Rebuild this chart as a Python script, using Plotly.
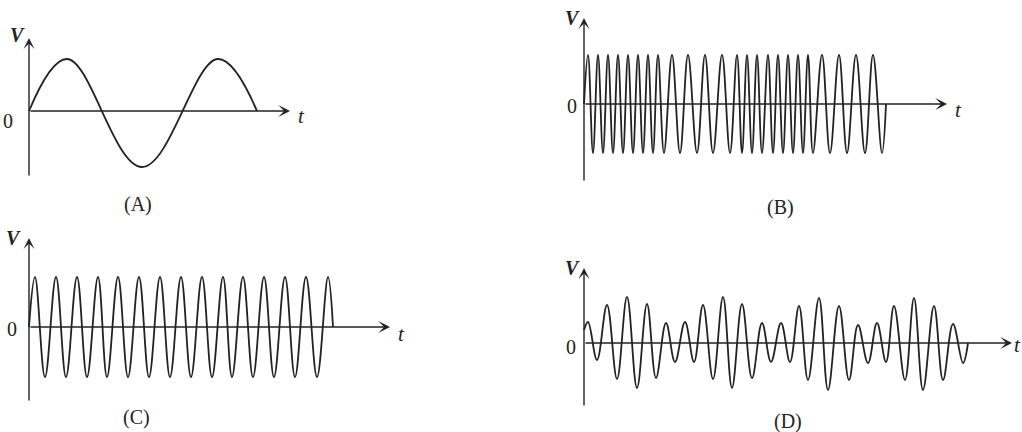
import plotly.graph_objects as go

# Four voltage-time sketches. t and V are in arbitrary units (V = 0 on the t axis).
# Each curve is given by its turning points (peaks / troughs) plus start and end.

# (A) slow sine
a_t = [0, 3.8, 11.3, 18.9, 22.8]
a_v = [0, 1.04, -1.12, 1.04, 0]

# (B) frequency modulated
b_t = [0, 0.4, 0.9, 1.4, 1.9, 2.4, 2.9, 3.4, 3.9, 4.4, 4.9, 5.4, 5.9, 6.4, 6.9, 7.4,
       8.0, 8.8, 9.6, 10.4, 11.3, 12.1, 12.9, 13.8, 14.6,
       15.3, 15.8, 16.3, 16.8, 17.3, 17.8, 18.4, 18.9, 19.4, 19.9, 20.4, 20.9, 21.4, 21.9, 22.4, 22.9,
       23.8, 24.6, 25.5, 26.3, 27.2, 28.1, 28.9, 29.8, 30.2]
b_v = [0, 0.98, -0.98, 0.98, -0.98, 0.98, -0.98, 0.98, -0.98, 0.98, -0.98, 0.98, -0.98, 0.98, -0.98, 0.98,
       -0.98, 0.98, -0.98, 0.98, -0.98, 0.98, -0.98, 0.98, -0.98,
       0.98, -0.98, 0.98, -0.98, 0.98, -0.98, 0.98, -0.98, 0.98, -0.98, 0.98, -0.98, 0.98, -0.98, 0.98, -0.98,
       0.98, -0.98, 0.98, -0.98, 0.98, -0.98, 0.98, -0.98, 0]

# (C) fast sine
c_t = [0, 0.6, 1.6, 2.7, 3.7, 4.8, 5.8, 6.9, 7.8, 8.9, 9.9, 11.0, 12.0, 13.1, 14.1, 15.2,
       16.2, 17.3, 18.3, 19.4, 20.3, 21.4, 22.4, 23.5, 24.5, 25.6, 26.6, 27.7, 28.8, 29.9, 30.4]
c_v = [0, 1, -1, 1, -1, 1, -1, 1, -1, 1, -1, 1, -1, 1, -1, 1,
       -1, 1, -1, 1, -1, 1, -1, 1, -1, 1, -1, 1, -1, 1, 0]

# (D) amplitude modulated (beats)
d_t = [0, 0.4, 1.3, 2.3, 3.3, 4.3, 5.3, 6.3, 7.2, 8.2, 9.1, 10.1, 11.0, 11.9, 12.9, 13.9, 14.8,
       15.8, 16.8, 17.8, 18.7, 19.7, 20.6, 21.5, 22.4, 23.5, 24.4, 25.5, 26.5, 27.4, 28.4,
       29.3, 30.2, 31.0, 32.1, 33.0, 33.9, 35.0, 35.9, 36.9, 37.9, 38.4]
d_v = [0.26, 0.42, -0.34, 0.76, -0.72, 0.92, -0.90, 0.78, -0.70, 0.40, -0.38, 0.42, -0.38,
       0.76, -0.72, 0.92, -0.90, 0.78, -0.70, 0.40, -0.38, 0.40, -0.38, 0.74, -0.74,
       0.90, -0.94, 0.74, -0.74, 0.36, -0.40, 0.40, -0.38, 0.74, -0.74, 0.90, -0.94,
       0.74, -0.74, 0.38, -0.40, 0]

captions = ['(A)', '(B)', '(C)', '(D)']

W, H = 1022, 432
PX_T = 10.0   # pixels per t unit
PX_V = 50.0   # pixels per V unit
PAD = 10
INK = '#222222'
SERIF = 'Liberation Serif'

# origin px, t-arrow end px, V-axis top px, V-axis bottom px,
# V label, 0 label, t label, caption (pixel centres)
panels = [
    dict(t=a_t, v=a_v, o=(29, 111), tend=290, top=38, bot=177,
         vl=(17, 35), zl=(8, 121), tl=(301, 116), cap=(138, 204)),
    dict(t=b_t, v=b_v, o=(584, 104), tend=947, top=18, bot=182,
         vl=(572, 18), zl=(572, 106), tl=(958, 110), cap=(780, 208)),
    dict(t=c_t, v=c_v, o=(29, 327), tend=390, top=238, bot=402,
         vl=(13, 238), zl=(12, 329), tl=(401, 334), cap=(136, 417)),
    dict(t=d_t, v=d_v, o=(584, 343), tend=1012, top=268, bot=407,
         vl=(572, 268), zl=(571, 347), tl=(1017, 345), cap=(788, 421)),
]

fig = go.Figure()
annotations = []
layout_axes = {}


def px(x, y):
    return x / W, 1 - y / H


for i, p in enumerate(panels):
    n = '' if i == 0 else str(i + 1)
    xr, yr = 'x' + n, 'y' + n
    ox, oy = p['o']
    t_end = (p['tend'] - ox) / PX_T
    v_top = (oy - p['top']) / PX_V
    v_bot = -(p['bot'] - oy) / PX_V

    layout_axes['xaxis' + n] = dict(
        domain=[(ox - PAD) / W, min(1, (p['tend'] + PAD) / W)],
        range=[-PAD / PX_T, t_end + PAD / PX_T],
        visible=False, fixedrange=True, anchor=yr)
    layout_axes['yaxis' + n] = dict(
        domain=[max(0, 1 - (p['bot'] + PAD) / H), min(1, 1 - (p['top'] - PAD) / H)],
        range=[v_bot - PAD / PX_V, v_top + PAD / PX_V],
        visible=False, fixedrange=True, anchor=xr)

    fig.add_trace(go.Scatter(
        x=p['t'], y=p['v'], mode='lines', xaxis=xr, yaxis=yr,
        line=dict(color=INK, width=1.8, shape='spline', smoothing=1.1),
        hoverinfo='skip', showlegend=False))

    # t axis
    annotations.append(dict(
        x=t_end, y=0, ax=0, ay=0, xref=xr, yref=yr, axref=xr, ayref=yr,
        text='', showarrow=True, arrowhead=3, arrowsize=1.4, arrowwidth=1.4,
        arrowcolor=INK))
    # V axis
    annotations.append(dict(
        x=0, y=v_top, ax=0, ay=v_bot, xref=xr, yref=yr, axref=xr, ayref=yr,
        text='', showarrow=True, arrowhead=3, arrowsize=1.3, arrowwidth=1.4,
        arrowcolor=INK))

    for key, txt, size in [('vl', '<b><i>V</i></b>', 20), ('zl', '0', 20),
                           ('tl', '<i>t</i>', 21), ('cap', captions[i], 20)]:
        x, y = px(*p[key])
        annotations.append(dict(
            x=x, y=y, xref='paper', yref='paper', text=txt, showarrow=False,
            xanchor='center', yanchor='middle',
            font=dict(family=SERIF, size=size, color=INK)))

fig.update_layout(
    width=W, height=H,
    margin=dict(l=0, r=0, t=0, b=0),
    paper_bgcolor='white', plot_bgcolor='rgba(0,0,0,0)',
    showlegend=False,
    annotations=annotations,
    **layout_axes)

# drop the browser's default body margin so the figure sits at the window corner
fig.write_html('out.html', config={'displayModeBar': False},
               post_script="document.body.style.margin='0';document.body.style.padding='0';")
